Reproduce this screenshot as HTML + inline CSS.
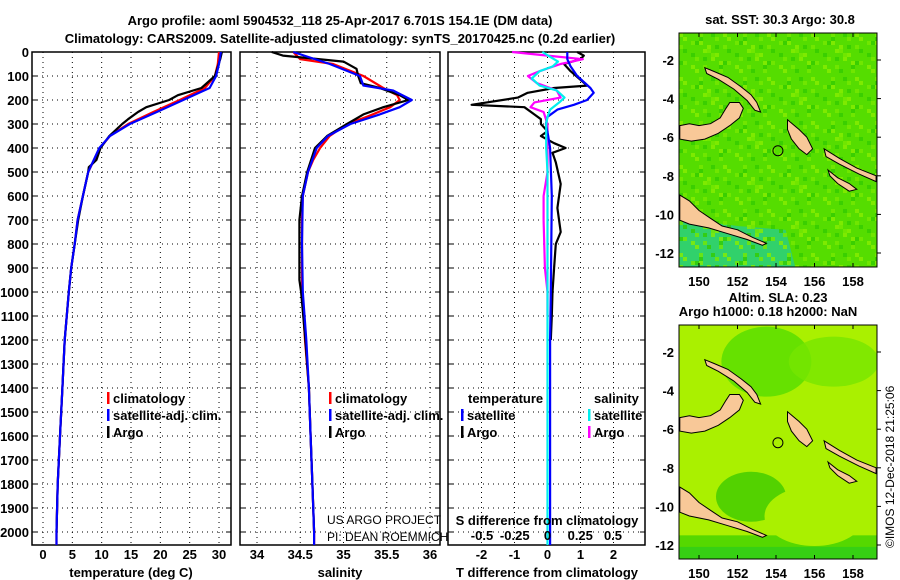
<!DOCTYPE html>
<html><head><meta charset="utf-8"><style>
body{margin:0;background:#fff;}
svg{display:block;font-family:"Liberation Sans",sans-serif;}
.t{font-weight:bold;font-size:13px;fill:#000;}
</style></head><body>
<svg id="c" width="900" height="580" viewBox="0 0 900 580">
<text class="t" x="340" y="25" text-anchor="middle" font-size="14">Argo profile: aoml 5904532_118 25-Apr-2017 6.701S 154.1E (DM data)</text>
<text class="t" x="340" y="43" text-anchor="middle" font-size="14">Climatology: CARS2009. Satellite-adjusted climatology: synTS_20170425.nc (0.2d earlier)</text>
<text class="t" x="780" y="24" text-anchor="middle">sat. SST: 30.3 Argo: 30.8</text>
<text class="t" x="778" y="302" text-anchor="middle">Altim. SLA: 0.23</text>
<text class="t" x="768" y="316" text-anchor="middle">Argo h1000: 0.18 h2000: NaN</text>
<text x="894" y="548" font-size="12" transform="rotate(-90 894 548)">©IMOS 12-Dec-2018 21:25:06</text>
</svg>
<script>
// ---- data (depth in m) ----
const tClimDepth=[0,50,100,150,200,250,300,350,400,500,600,700,800,900,1000,1200,1400,1600,1800,2000,2054];
const tClimVal=[30,29.8,29.3,27.6,23.3,18.8,14.5,11.4,9.7,7.7,6.8,5.9,5.4,4.8,4.4,3.7,3.3,2.9,2.5,2.3,2.3];
const tSatVal=[30.3,30.0,29.5,28.4,23.9,19.4,14.8,11.4,9.6,7.7,6.8,5.9,5.4,4.8,4.4,3.7,3.3,2.9,2.5,2.3,2.3];
const tArgoDepth=[0,30,100,150,180,200,230,250,280,300,350,400,450,480,500,600,700,800,900,1000,1200,1400,1600,1800,2000];
const tArgoVal=[30.5,30.2,29.3,27.0,23.0,21.5,17.6,16.2,14.5,13.5,11.3,9.8,9.1,7.8,7.7,6.8,6.0,5.4,4.8,4.4,3.7,3.3,2.9,2.5,2.3];
const sClimDepth=[0,30,50,100,150,180,200,230,270,300,350,400,450,500,600,700,1000,1200,1400,1600,1800,2000,2054];
const sClimVal=[34.42,34.5,34.88,35.23,35.46,35.62,35.65,35.54,35.27,35.04,34.84,34.73,34.65,34.59,34.53,34.52,34.52,34.555,34.6,34.62,34.64,34.66,34.66];
const sSatDepth=[0,50,100,140,160,200,230,260,300,350,400,500,600,800,1000,1200,1400,1600,1800,2000,2054];
const sSatVal=[34.42,34.84,35.19,35.23,35.57,35.79,35.65,35.42,35.08,34.82,34.69,34.59,34.53,34.52,34.53,34.57,34.6,34.62,34.64,34.66,34.66];
const sArgoDepth=[0,15,25,40,70,100,130,150,180,200,230,260,300,350,400,500,600,700,950,1000,1200,1400,1600,1800,2000];
const sArgoVal=[34.17,34.3,34.58,35.0,35.15,35.17,35.2,35.42,35.65,35.75,35.46,35.23,35.04,34.81,34.67,34.58,34.52,34.49,34.49,34.51,34.56,34.6,34.62,34.64,34.66];
const dTSatDepth=[0,30,60,100,150,170,200,220,240,270,300,350,400,600,1000,1200,2054];
const dTSatVal=[0.6,0.6,0.7,0.9,1.3,1.4,1.2,0.8,0.3,0,-0.05,0.02,0.08,0.13,0.1,0.08,0.08];
const dTArgoDepth=[0,15,30,50,80,110,140,150,170,190,220,230,260,280,300,330,350,380,400,420,460,550,650,750,800,900,1000,1100,1200];
const dTArgoVal=[0.9,1.1,1.0,0.5,0.7,0.95,1.2,0.2,-0.6,-0.9,-2.3,-0.7,-0.4,-0.2,-0.2,0,-0.2,0.2,0.55,0.15,0.25,0.4,0.3,0.4,0.25,0.2,0.15,0.13,0.1];
const dSSatDepth=[0,20,40,60,80,110,140,160,190,210,240,270,300,400,500,600,1000,2054];
const dSSatVal=[-0.04,0.02,0.08,0.04,-0.06,-0.12,-0.06,0.07,0.13,0.09,0.02,0,-0.01,-0.01,0,0,0,0];
const dSArgoDepth=[0,15,30,50,80,100,130,160,190,210,230,250,300,400,500,600,700,900,1000,1100];
const dSArgoVal=[-0.27,0,0.27,0.1,-0.06,-0.15,-0.08,0.07,0.1,-0.1,-0.13,-0.03,0,0,0,-0.03,-0.03,-0.02,0,0];
const depthTicks=[0,100,200,300,400,500,600,700,800,900,1000,1100,1200,1300,1400,1500,1600,1700,1800,1900,2000];
const tempTicks=[0,5,10,15,20,25,30];
const salTicks=[34,34.5,35,35.5,36];
const dTTicks=[-2,-1,0,1,2];
const dSTicks=[-0.5,-0.25,0,0.25,0.5];
const lonTicks=[150,152,154,156,158];
const latTicks=[-2,-4,-6,-8,-10,-12];

const NS='http://www.w3.org/2000/svg';
const svg=document.getElementById('c');
function mk(tag,attrs,parent){const e=document.createElementNS(NS,tag);for(const k in attrs)e.setAttribute(k,attrs[k]);(parent||svg).appendChild(e);return e;}
const Y0=52,Y1=545;
const yD=d=>Y0+d*0.24;
const xT=v=>43+v*5.867;
const xS=v=>257+(v-34)*86.5;
const xDT=v=>547.5+v*33;
const xDS=v=>547.5+v*131;

function panel(name,x0,x1,grid,showDepth){
  const g=mk('g',{});
  
  
  grid.forEach(x=>{const l=mk('line',{x1:x,x2:x,y1:Y0,y2:Y1,stroke:'#000','stroke-dasharray':'1,4','stroke-width':1},g);});
  depthTicks.forEach(d=>{const l=mk('line',{x1:x0,x2:x1,y1:yD(d),y2:yD(d),stroke:'#000','stroke-dasharray':'1,4'},g);
    mk('line',{x1:x0,x2:x0+5,y1:yD(d),y2:yD(d),stroke:'#000'},g);mk('line',{x1:x1-5,x2:x1,y1:yD(d),y2:yD(d),stroke:'#000'},g);
    if(showDepth){const t=mk('text',{x:x0-3,y:yD(d)+5,'text-anchor':'end',class:'t'},g);t.textContent=d;}});
  const r=mk('rect',{x:x0,y:Y0,width:x1-x0,height:Y1-Y0,fill:'none',stroke:'#000','stroke-width':1.5},g);
  
  return g;
}
function line(g,name,depths,vals,xf,color,w){
  const p=mk('polyline',{points:depths.map((d,i)=>xf(vals[i]).toFixed(1)+','+yD(d).toFixed(1)).join(' '),fill:'none',stroke:color,'stroke-width':w||2.2,'stroke-linejoin':'round'},g);
  
}
function txt(g,x,y,s,name,anchor,cls,fs){const t=mk('text',{x:x,y:y,'text-anchor':anchor||'start',class:cls||'t'},g);if(fs)t.setAttribute('font-size',fs);t.textContent=s;return t;}
function legend(g,x,y,color,label){const r=mk('rect',{x:x,y:y-11,width:2.5,height:12,fill:color},g);txt(g,x+6,y,label,'legend-entry');}

// Panel 1 temperature
const g1=panel('temperature-panel',32,231,tempTicks.map(xT),true);
line(g1,'temp-climatology-line',tClimDepth,tClimVal,xT,'#f00');
line(g1,'temp-argo-line',tArgoDepth,tArgoVal,xT,'#000');
line(g1,'temp-satellite-line',tClimDepth,tSatVal,xT,'#00f');
tempTicks.forEach(v=>txt(g1,xT(v),559,v,'temp-tick-label','middle'));
txt(g1,131,577,'temperature (deg C)','x-axis-title','middle');
legend(g1,107,403,'#f00','climatology');legend(g1,107,420,'#00f','satellite-adj. clim.');legend(g1,107,437,'#000','Argo');

// Panel 2 salinity
const g2=panel('salinity-panel',240,440,salTicks.map(xS),false);
line(g2,'sal-climatology-line',sClimDepth,sClimVal,xS,'#f00');
line(g2,'sal-argo-line',sArgoDepth,sArgoVal,xS,'#000');
line(g2,'sal-satellite-line',sSatDepth,sSatVal,xS,'#00f');
salTicks.forEach(v=>txt(g2,xS(v),559,v,'sal-tick-label','middle'));
txt(g2,340,577,'salinity','x-axis-title','middle');
legend(g2,329,403,'#f00','climatology');legend(g2,329,420,'#00f','satellite-adj. clim.');legend(g2,329,437,'#000','Argo');
txt(g2,327,524,'US ARGO PROJECT','project-label','start','t2',12).setAttribute('style','font-weight:normal;font-size:12px');
txt(g2,327,541,'PI: DEAN ROEMMICH','pi-label','start','t2',12).setAttribute('style','font-weight:normal;font-size:12px');

// Panel 3 differences
const g3=panel('difference-panel',448,645,dTTicks.map(xDT),false);
line(g3,'dT-argo-line',dTArgoDepth,dTArgoVal,xDT,'#000');
line(g3,'dS-argo-line',dSArgoDepth,dSArgoVal,xDS,'#f0f');
line(g3,'dT-satellite-line',dTSatDepth,dTSatVal,xDT,'#00f');
line(g3,'dS-satellite-line',dSSatDepth,dSSatVal,xDS,'#0ee');
dTTicks.forEach(v=>txt(g3,xDT(v),559,v,'dT-tick-label','middle'));
dSTicks.forEach(v=>txt(g3,xDS(v),540,v,'dS-tick-label','middle'));
txt(g3,547,525,'S difference from climatology','dS-axis-title','middle');
txt(g3,547,577,'T difference from climatology','x-axis-title','middle');
txt(g3,468,403,'temperature','legend-heading');txt(g3,594,403,'salinity','legend-heading');
legend(g3,461,420,'#00f','satellite');legend(g3,461,437,'#000','Argo');
legend(g3,588,420,'#0ee','satellite');legend(g3,588,437,'#f0f','Argo');

// ---- maps ----
const land=[
 [[149,-5.4],[149.5,-5.3],[150,-5.4],[150.6,-5.3],[151.1,-5.0],[151.4,-4.5],[151.6,-4.2],[152.1,-4.2],[152.3,-4.5],[152.1,-5.0],[151.6,-5.4],[151,-5.8],[150.3,-6.1],[149.6,-6.2],[149,-6.1]],
 [[150.3,-2.4],[150.8,-2.6],[151.5,-2.9],[152.2,-3.4],[152.7,-3.8],[153.0,-4.2],[153.2,-4.7],[152.9,-4.6],[152.5,-4.1],[151.8,-3.5],[151,-3.0],[150.4,-2.7]],
 [[154.6,-5.1],[155.2,-5.6],[155.6,-6.0],[155.9,-6.6],[155.6,-6.9],[155.2,-6.6],[154.8,-6.1],[154.6,-5.6]],
 [[156.5,-6.6],[157.3,-7.1],[158.2,-7.6],[159.2,-8.0],[159.2,-8.3],[158.3,-7.9],[157.3,-7.4],[156.6,-7.0]],
 [[156.7,-7.7],[157.2,-8.1],[157.8,-8.4],[158.2,-8.7],[157.8,-8.8],[157.2,-8.4],[156.8,-8.0]],
 [[149,-9.0],[149.5,-9.3],[150,-9.8],[150.6,-10.2],[151.2,-10.6],[152,-10.8],[152.8,-11.2],[153.5,-11.5],[153.3,-11.6],[152.5,-11.3],[151.5,-11.0],[150.5,-10.7],[149.5,-10.5],[149,-10.3]]
];
function map(name,top,kind){
  const L=679,R=877,B=top+234;
  const xL=lon=>699+(lon-150)*19.25;
  const yL=lat=>top+27+(-2-lat)*19.3;
  const g=mk('g',{});
  const cid='clip'+top;const cp=mk('clipPath',{id:cid},g);mk('rect',{x:L,y:top,width:R-L,height:B-top},cp);
  const inner=mk('g',{'clip-path':'url(#'+cid+')'},g);
  if(kind==='sst'){
    mk('rect',{x:L,y:top,width:R-L,height:B-top,fill:'#55dd00'},inner);
    mk('path',{d:`M${L},${yL(-10.2)} L${xL(152)},${yL(-10.6)} L${xL(154.5)},${yL(-10.8)} L${xL(155)},${B} L${L},${B}Z`,fill:'#22cc99',opacity:0.7},inner);
    for(let i=0;i<50;i++)for(let j=0;j<60;j++){const h=(i*73+j*151+i*j*7)%11;if(h<3)mk('rect',{x:L+i*4,y:top+j*4,width:4,height:4,fill:h==0?'#88ee00':h==1?'#33cc00':'#77e800',opacity:0.8},inner);}
  }else{
    mk('rect',{x:L,y:top,width:R-L,height:B-top,fill:'#aaf000'},inner);
    mk('ellipse',{cx:xL(153.5),cy:yL(-2.5),rx:45,ry:35,fill:'#55dd00',opacity:0.8},inner);
    mk('ellipse',{cx:xL(157),cy:yL(-2.5),rx:45,ry:25,fill:'#77e600',opacity:0.8},inner);
    mk('ellipse',{cx:xL(152.7),cy:yL(-9.5),rx:35,ry:25,fill:'#44cc00',opacity:0.85},inner);
    mk('rect',{x:L,y:yL(-11.5),width:R-L,height:40,fill:'#55d800'},inner);
    mk('ellipse',{cx:xL(156),cy:yL(-10.5),rx:50,ry:30,fill:'#aaf000'},inner);
    mk('rect',{x:L,y:yL(-12.1),width:R-L,height:30,fill:'#22cc22',opacity:0.6},inner);
  }
  land.forEach(poly=>{const p=mk('polygon',{points:poly.map(q=>xL(q[0]).toFixed(1)+','+yL(q[1]).toFixed(1)).join(' '),fill:'#f8c898',stroke:'#000','stroke-width':1},inner);});
  const c=mk('circle',{cx:xL(154.1),cy:yL(-6.7),r:5,fill:'none',stroke:'#000'},g);
  const fr=mk('rect',{x:L,y:top,width:R-L,height:B-top,fill:'none',stroke:'#000'},g);
  lonTicks.forEach(v=>{mk('line',{x1:xL(v),x2:xL(v),y1:B,y2:B-4,stroke:'#000'},g);mk('line',{x1:xL(v),x2:xL(v),y1:top,y2:top+4,stroke:'#000'},g);txt(g,xL(v),B+19,v,'lon-tick-label','middle');});
  latTicks.forEach(v=>{mk('line',{x1:R,x2:R+4,y1:yL(v),y2:yL(v),stroke:'#000'},g);txt(g,L-5,yL(v)+5,v,'lat-tick-label','end');});
}
map('sst-map',33,'sst');
map('sla-map',325,'sla');
</script>
</body></html>
